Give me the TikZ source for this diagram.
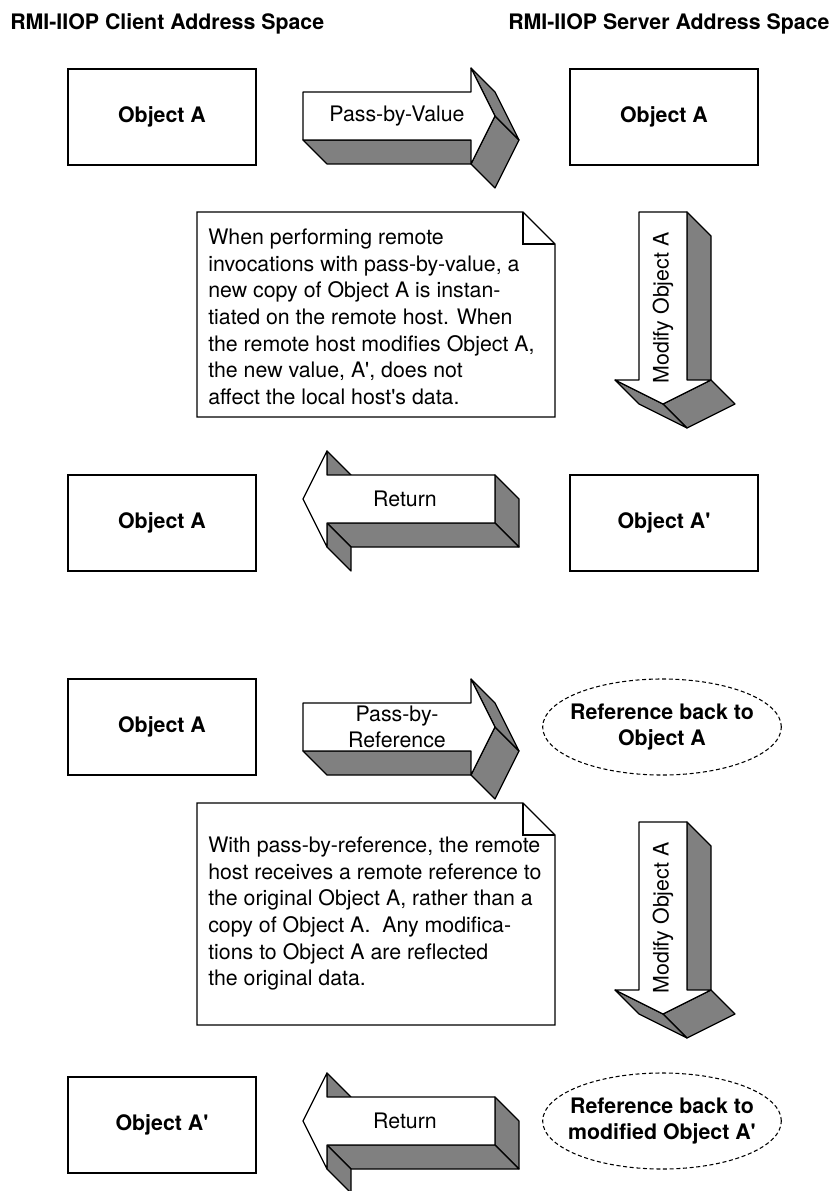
\documentclass[tikz,border=0pt]{standalone}
\usepackage{fontspec}
\setmainfont{TeX Gyre Heros}
\usetikzlibrary{shapes.geometric}

\begin{document}
\begin{tikzpicture}[
  x=0.75pt,y=-0.75pt,
  font=\fontsize{16}{19.9}\selectfont,
  front/.style={fill=white,draw=black,line width=0.9pt,line join=round},
  side/.style={fill=black!50,draw=black,line width=0.9pt,line join=round},
  objbox/.style={draw,line width=1.5pt,minimum width=141pt,minimum height=72pt,
    font=\fontsize{16}{19.9}\selectfont\bfseries},
  refoval/.style={ellipse,draw,line width=0.8pt,dash pattern=on 3pt off 2pt,
    minimum width=179pt,minimum height=72pt,align=center,inner xsep=-8pt,inner ysep=0pt,
    font=\fontsize{16}{19.9}\selectfont\bfseries},
  header/.style={anchor=base west,inner sep=0pt,font=\fontsize{16}{19.9}\selectfont\bfseries},
  notebox/.style={draw,line width=1pt,fill=white,line join=miter},
  notetext/.style={anchor=north west,align=left,inner sep=0pt},
  pics/rarrow/.style={code={
    \filldraw[side] (0,24) -- (168,24) -- (192,48) -- (24,48) -- cycle;
    \filldraw[side] (192,0) -- (168,48) -- (192,72) -- (216,24) -- cycle;
    \filldraw[side] (168,-48) -- (192,0) -- (216,24) -- (192,-24) -- cycle;
    \filldraw[front] (0,-24) -- (168,-24) -- (168,-48) -- (192,0) -- (168,48)
      -- (168,24) -- (0,24) -- cycle;
  }},
  pics/larrow/.style={code={
    \filldraw[side] (0,-24) -- (24,0) -- (24,48) -- (0,24) -- cycle;
    \filldraw[side] (-168,24) -- (0,24) -- (24,48) -- (-144,48) -- cycle;
    \filldraw[side] (-168,24) -- (-144,48) -- (-144,72) -- (-168,48) -- cycle;
    \filldraw[side] (-168,-48) -- (-144,-24) -- (-144,0) -- (-168,-24) -- cycle;
    \filldraw[front] (0,-24) -- (-168,-24) -- (-168,-48) -- (-192,0) -- (-168,48)
      -- (-168,24) -- (0,24) -- cycle;
  }},
  pics/darrow/.style={code={
    \filldraw[side] (24,0) -- (48,24) -- (48,192) -- (24,168) -- cycle;
    \filldraw[side] (48,168) -- (72,192) -- (24,216) -- (0,192) -- cycle;
    \filldraw[side] (-48,168) -- (0,192) -- (24,216) -- (-24,192) -- cycle;
    \filldraw[front] (-24,0) -- (24,0) -- (24,168) -- (48,168) -- (0,192)
      -- (-48,168) -- (-24,168) -- cycle;
  }},
]
\useasboundingbox (0,0) rectangle (831,1191);

% address space headers
\node[header] (clienthdr) at (10,30) {RMI-IIOP Client Address Space};
\node[header] (serverhdr) at (508,30) {RMI-IIOP Server Address Space};

% pass-by-value
\node[objbox] (cliA) at (162,117) {Object A};
\node[objbox] (srvA) at (664,117) {Object A};
\pic at (303,116) {rarrow};
\node (pbv) at (397,116) {Pass-by-Value};

\draw[notebox] (197,212) -- (523,212) -- (555,244) -- (555,417) -- (197,417) -- cycle;
\draw[line width=1pt] (523,212) -- (523,244) -- (555,244);
\node[notetext] (valnote) at (208,229)
  {When performing remote\\invocations with pass-by-value, a\\new copy of Object A is instan-\\%
   tiated on the remote host. When\\the remote host modifies Object A,\\%
   the new value, A\textquotesingle, does not\\affect the local host\textquotesingle s data.};

\pic at (663,212) {darrow};
\node[rotate=90] (modA) at (663,308) {Modify Object A};

\node[objbox] (cliA2) at (162,523) {Object A};
\node[objbox] (srvA2) at (664,523) {Object A\textquotesingle};
\pic at (495,499) {larrow};
\node (ret) at (405,499) {Return};

% pass-by-reference
\node[objbox] (cliB) at (162,727) {Object A};
\pic at (303,727) {rarrow};
\node[align=center] (pbr) at (397,727) {Pass-by-\\Reference};
\node[refoval] (refA) at (662,727) {Reference back to\\Object A};

\draw[notebox] (197,803) -- (523,803) -- (555,835) -- (555,1025) -- (197,1025) -- cycle;
\draw[line width=1pt] (523,803) -- (523,835) -- (555,835);
\node[notetext] (refnote) at (208,837)
  {With pass-by-reference, the remote\\host receives a remote reference to\\%
   the original Object A, rather than a\\copy of Object A.~\ Any modifica-\\%
   tions to Object A are reflected\\the original data.};

\pic at (663,822) {darrow};
\node[rotate=90] (modB) at (663,918) {Modify Object A};

\node[objbox] (cliB2) at (162,1125) {Object A\textquotesingle};
\pic at (495,1121) {larrow};
\node (ret2) at (405,1121) {Return};
\node[refoval] (refA2) at (662,1121) {Reference back to\\modified Object A\textquotesingle};
\end{tikzpicture}
\end{document}
